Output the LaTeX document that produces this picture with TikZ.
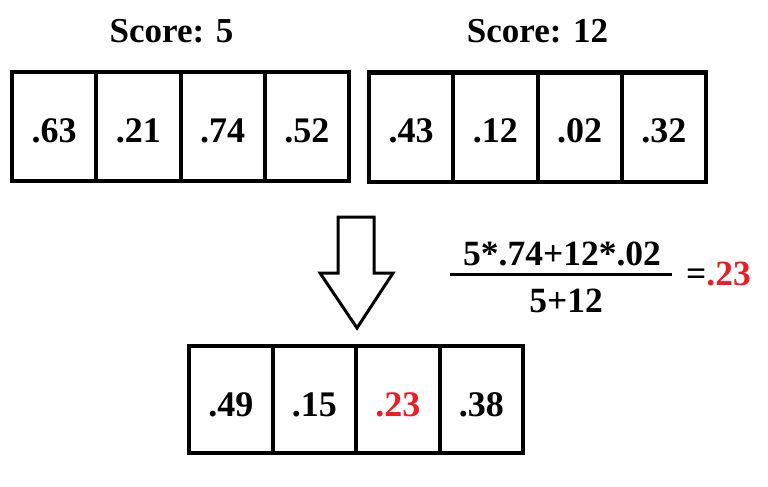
\documentclass[tikz,border=0pt]{standalone}
\usepackage{fontspec}
\setmainfont{Liberation Serif}
\definecolor{hired}{RGB}{237,28,36}
\begin{document}
\begin{tikzpicture}[x=1pt,y=-1pt,
  cell/.style={draw, line width=4pt, minimum width=84.25pt, minimum height=109pt,
    inner sep=0pt, outer sep=0pt, font=\fontsize{36}{40}\selectfont\bfseries,
    text height=31pt, text depth=0pt},
  lowcell/.style={cell, minimum width=83.5pt, minimum height=107pt, text height=33pt},
  title/.style={anchor=base, inner sep=0pt, font=\fontsize{35}{40}\selectfont\bfseries},
  frac/.style={anchor=base, inner sep=0pt, font=\fontsize{35.5}{40}\selectfont\bfseries},
  bigarrow/.style={draw, line width=3pt, line join=miter, fill=white}]
\useasboundingbox (0,0) rectangle (768,487);

\node[title] (t1) at (171.5,43) {Score: 5};
\node[title] (t2) at (537.5,43) {Score: 12};

\node[cell] (a1) at (54.125,126.5) {.63};
\node[cell] (a2) at (138.375,126.5) {.21};
\node[cell] (a3) at (222.625,126.5) {.74};
\node[cell] (a4) at (306.875,126.5) {.52};

\node[cell] (b1) at (411.125,127) {.43};
\node[cell] (b2) at (495.375,127) {.12};
\node[cell] (b3) at (579.625,127) {.02};
\node[cell] (b4) at (663.875,127) {.32};

\node[lowcell] (c1) at (230.75,399.5) {.49};
\node[lowcell] (c2) at (314.25,399.5) {.15};
\node[lowcell, text=hired] (c3) at (397.75,399.5) {.23};
\node[lowcell] (c4) at (481.25,399.5) {.38};

\draw[bigarrow] (338,217) -- (374,217) -- (374,273) -- (393,273) -- (357,328)
  -- (320,273) -- (338,273) -- cycle;

\node[frac] (num) at (562,265) {5*.74+12*.02};
\node[frac] (den) at (566,312) {5+12};
\coordinate (fl) at (450,274);
\coordinate (fr) at (672,274);
\draw[line width=3pt] (fl) -- (fr);
\node[frac, anchor=base west] (res) at (686,285) {=\textcolor{hired}{.23}};
\end{tikzpicture}
\end{document}
